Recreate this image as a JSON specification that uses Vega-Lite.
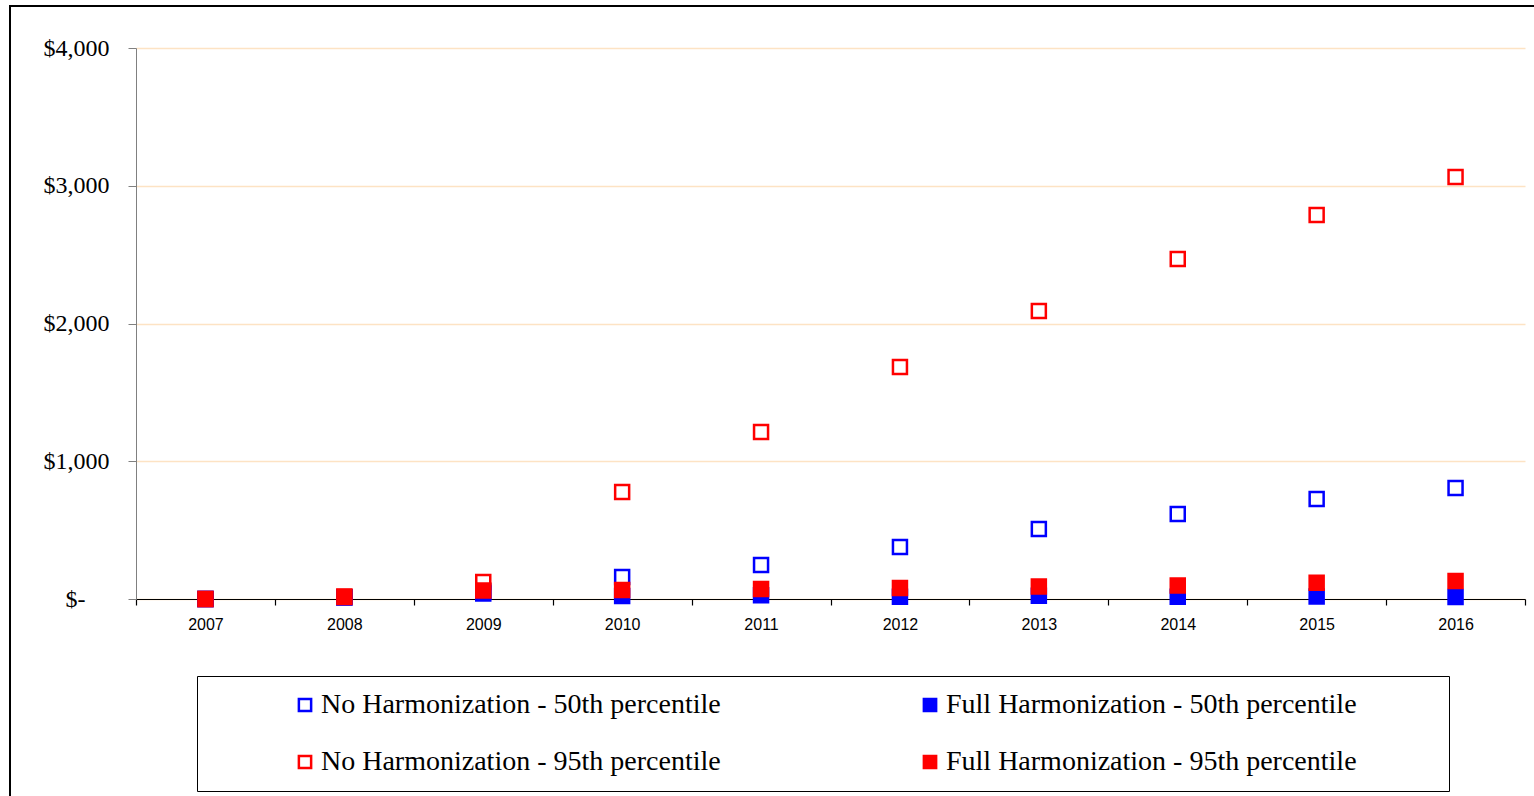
{
  "$schema": "https://vega.github.io/schema/vega-lite/v6.json",
  "width": 1528,
  "height": 794,
  "autosize": {"type": "none"},
  "padding": {"left": 10, "top": 6, "right": -4, "bottom": -4},
  "background": "white",
  "config": {"view": {"stroke": "black", "strokeWidth": 2}},
  "data": {"values": [
    {"year": "2007", "series": "No Harmonization - 50th percentile", "value": 0},
    {"year": "2008", "series": "No Harmonization - 50th percentile", "value": 10},
    {"year": "2009", "series": "No Harmonization - 50th percentile", "value": 55},
    {"year": "2010", "series": "No Harmonization - 50th percentile", "value": 160},
    {"year": "2011", "series": "No Harmonization - 50th percentile", "value": 247},
    {"year": "2012", "series": "No Harmonization - 50th percentile", "value": 377},
    {"year": "2013", "series": "No Harmonization - 50th percentile", "value": 508},
    {"year": "2014", "series": "No Harmonization - 50th percentile", "value": 617},
    {"year": "2015", "series": "No Harmonization - 50th percentile", "value": 726},
    {"year": "2016", "series": "No Harmonization - 50th percentile", "value": 806},
    {"year": "2007", "series": "No Harmonization - 95th percentile", "value": 0},
    {"year": "2008", "series": "No Harmonization - 95th percentile", "value": 18},
    {"year": "2009", "series": "No Harmonization - 95th percentile", "value": 123},
    {"year": "2010", "series": "No Harmonization - 95th percentile", "value": 777},
    {"year": "2011", "series": "No Harmonization - 95th percentile", "value": 1212},
    {"year": "2012", "series": "No Harmonization - 95th percentile", "value": 1684},
    {"year": "2013", "series": "No Harmonization - 95th percentile", "value": 2091},
    {"year": "2014", "series": "No Harmonization - 95th percentile", "value": 2468},
    {"year": "2015", "series": "No Harmonization - 95th percentile", "value": 2788},
    {"year": "2016", "series": "No Harmonization - 95th percentile", "value": 3064},
    {"year": "2007", "series": "Full Harmonization - 50th percentile", "value": 0},
    {"year": "2008", "series": "Full Harmonization - 50th percentile", "value": 12},
    {"year": "2009", "series": "Full Harmonization - 50th percentile", "value": 40},
    {"year": "2010", "series": "Full Harmonization - 50th percentile", "value": 22},
    {"year": "2011", "series": "Full Harmonization - 50th percentile", "value": 28},
    {"year": "2012", "series": "Full Harmonization - 50th percentile", "value": 17},
    {"year": "2013", "series": "Full Harmonization - 50th percentile", "value": 23},
    {"year": "2014", "series": "Full Harmonization - 50th percentile", "value": 17},
    {"year": "2015", "series": "Full Harmonization - 50th percentile", "value": 18},
    {"year": "2016", "series": "Full Harmonization - 50th percentile", "value": 15},
    {"year": "2007", "series": "Full Harmonization - 95th percentile", "value": 0},
    {"year": "2008", "series": "Full Harmonization - 95th percentile", "value": 15},
    {"year": "2009", "series": "Full Harmonization - 95th percentile", "value": 62},
    {"year": "2010", "series": "Full Harmonization - 95th percentile", "value": 65},
    {"year": "2011", "series": "Full Harmonization - 95th percentile", "value": 73},
    {"year": "2012", "series": "Full Harmonization - 95th percentile", "value": 80},
    {"year": "2013", "series": "Full Harmonization - 95th percentile", "value": 91},
    {"year": "2014", "series": "Full Harmonization - 95th percentile", "value": 98},
    {"year": "2015", "series": "Full Harmonization - 95th percentile", "value": 118},
    {"year": "2016", "series": "Full Harmonization - 95th percentile", "value": 131}
  ]},
  "mark": {"type": "point", "shape": "square", "size": 196, "strokeWidth": 2.5, "filled": true, "opacity": 1},
  "encoding": {
    "x": {
      "field": "year", "type": "ordinal",
      "scale": {"type": "band", "paddingInner": 0, "paddingOuter": 0, "range": [126, 1515]},
      "axis": {"title": null, "offset": -201, "labelAngle": 0, "tickBand": "extent", "domainColor": "black", "domainWidth": 1.2, "tickColor": "black", "tickWidth": 1.2, "tickSize": 6, "labelFont": "Liberation Sans", "labelFontSize": 16, "labelColor": "black", "labelPadding": 11, "grid": false}
    },
    "y": {
      "field": "value", "type": "quantitative",
      "scale": {"domain": [0, 4000], "nice": false, "range": [593, 42]},
      "axis": {"title": null, "offset": -126, "values": [0, 1000, 2000, 3000, 4000], "labelExpr": "datum.value == 0 ? '$-\u00a0\u00a0\u00a0\u00a0\u200b' : '$' + format(datum.value, ',')", "labelFont": "Liberation Serif", "labelFontSize": 24, "labelColor": "black", "labelPadding": 19, "tickSize": 8, "tickColor": "#808080", "domainColor": "#808080", "gridColor": "#FDE3C4", "gridWidth": 1.5, "labelBaseline": "middle"}
    },
    "fill": {
      "field": "series", "type": "nominal",
      "scale": {"domain": ["No Harmonization - 50th percentile", "No Harmonization - 95th percentile", "Full Harmonization - 50th percentile", "Full Harmonization - 95th percentile"], "range": ["transparent", "transparent", "#0000FF", "#FF0000"]},
      "legend": {"title": null, "orient": "none", "legendX": 187, "legendY": 670, "columns": 2, "strokeColor": "black", "padding": 15, "symbolType": "square", "symbolSize": 150, "symbolStrokeWidth": 2.5, "labelFont": "Liberation Serif", "labelFontSize": 28, "labelColor": "black", "labelLimit": 1000, "rowPadding": 29, "columnPadding": 39, "symbolOffset": 79, "labelOffset": 2, "labelExpr": "datum.label + '\u00a0\u00a0\u00a0\u00a0\u00a0\u00a0\u00a0\u00a0\u00a0\u00a0\u00a0\u200b'"}
    },
    "stroke": {
      "field": "series", "type": "nominal",
      "scale": {"domain": ["No Harmonization - 50th percentile", "No Harmonization - 95th percentile", "Full Harmonization - 50th percentile", "Full Harmonization - 95th percentile"], "range": ["#0000FF", "#FF0000", "#0000FF", "#FF0000"]},
      "legend": {"title": null, "orient": "none", "legendX": 187, "legendY": 670, "columns": 2, "strokeColor": "black", "padding": 15, "symbolType": "square", "symbolSize": 150, "symbolStrokeWidth": 2.5, "labelFont": "Liberation Serif", "labelFontSize": 28, "labelColor": "black", "labelLimit": 1000, "rowPadding": 29, "columnPadding": 39, "symbolOffset": 79, "labelOffset": 2, "labelExpr": "datum.label + '\u00a0\u00a0\u00a0\u00a0\u00a0\u00a0\u00a0\u00a0\u00a0\u00a0\u00a0\u200b'"}
    }
  }
}
